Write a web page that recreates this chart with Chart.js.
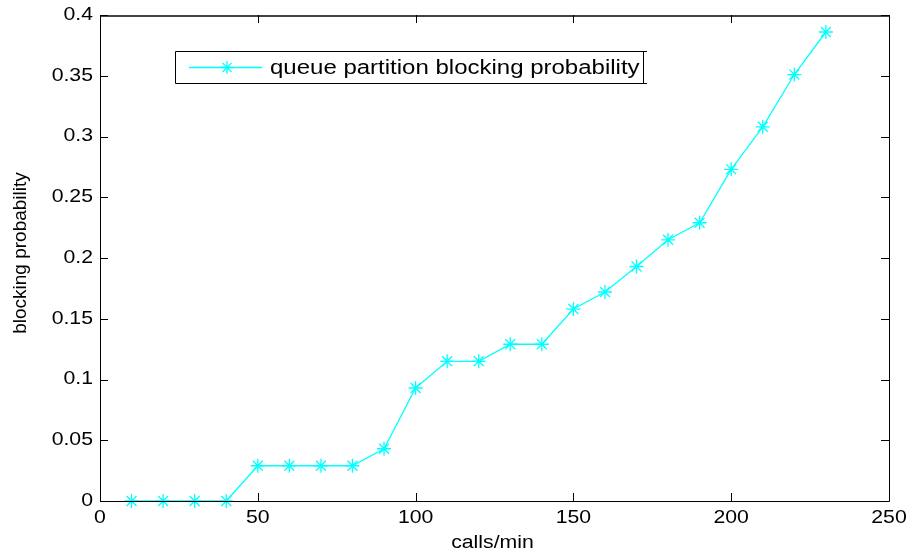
<!DOCTYPE html>
<html>
<head>
<meta charset="utf-8">
<script src="https://cdn.jsdelivr.net/npm/chart.js@4"></script>
<style>
  html, body { margin: 0; padding: 0; background: #fff; }
  #wrap { width: 912px; height: 552px; }
</style>
</head>
<body>
<div id="wrap"><canvas id="blockChart" width="912" height="552"></canvas></div>
<script>
// data
const callsPerMin = [10, 20, 30, 40, 50, 60, 70, 80, 90, 100, 110, 120, 130, 140, 150, 160, 170, 180, 190, 200, 210, 220, 230];
const blockingProb = [0, 0, 0, 0, 0.029, 0.029, 0.029, 0.029, 0.043, 0.093, 0.115, 0.115, 0.129, 0.129, 0.158, 0.172, 0.193, 0.215, 0.229, 0.273, 0.308, 0.351, 0.386];
const xTicks = [0, 50, 100, 150, 200, 250];
const yTicks = [0, 0.05, 0.1, 0.15, 0.2, 0.25, 0.3, 0.35, 0.4];
const yTickLabels = ["0", "0.05", "0.1", "0.15", "0.2", "0.25", "0.3", "0.35", "0.4"];
const seriesLabel = "queue partition blocking probability";
const xTitle = "calls/min";
const yTitle = "blocking probability";

const FONT = '"Liberation Sans", Arial, sans-serif';
const CYAN = "#00ffff";

function wideText(ctx, text, x, y, align, sx){
  ctx.save();
  ctx.translate(x, y);
  ctx.scale(sx || 1.18, 1);
  ctx.textAlign = align;
  ctx.fillText(text, 0, 0);
  ctx.restore();
}

function star(ctx, x, y, r){
  ctx.beginPath();
  for (let k = 0; k < 4; k++){
    const ang = k * Math.PI / 4;
    ctx.moveTo(x - r * Math.cos(ang), y - r * Math.sin(ang));
    ctx.lineTo(x + r * Math.cos(ang), y + r * Math.sin(ang));
  }
  ctx.stroke();
}

// matlab style box, inward ticks, labels and legend
const matlabAxes = {
  id: "matlabAxes",
  afterDraw(chart){
    const ctx = chart.ctx;
    const a = chart.chartArea;
    const xs = chart.scales.x, ys = chart.scales.y;
    const tl = 8;

    ctx.save();
    ctx.strokeStyle = "#000";
    ctx.lineWidth = 1;
    ctx.beginPath();
    ctx.rect(Math.round(a.left) + 0.5, Math.round(a.top) + 0.5, Math.round(a.right - a.left), Math.round(a.bottom - a.top));
    ctx.stroke();
    // top edge looks a bit heavier in the figure
    ctx.strokeStyle = "#444";
    ctx.lineWidth = 2;
    ctx.beginPath();
    ctx.moveTo(a.left, Math.round(a.top) + 1); ctx.lineTo(a.right, Math.round(a.top) + 1);
    ctx.stroke();

    ctx.strokeStyle = "#000";
    ctx.lineWidth = 1;
    ctx.beginPath();
    xTicks.forEach(v => {
      const px = Math.round(xs.getPixelForValue(v)) + 0.5;
      ctx.moveTo(px, a.bottom); ctx.lineTo(px, a.bottom - tl);
      ctx.moveTo(px, a.top); ctx.lineTo(px, a.top + tl);
    });
    yTicks.forEach(v => {
      const py = Math.round(ys.getPixelForValue(v)) + 0.5;
      ctx.moveTo(a.left, py); ctx.lineTo(a.left + tl, py);
      ctx.moveTo(a.right, py); ctx.lineTo(a.right - tl, py);
    });
    ctx.stroke();

    ctx.fillStyle = "#000";
    ctx.font = "18px " + FONT;
    ctx.textBaseline = "middle";
    yTicks.forEach((v, i) => {
      wideText(ctx, yTickLabels[i], a.left - 7, ys.getPixelForValue(v), "right");
    });
    ctx.textBaseline = "top";
    xTicks.forEach(v => {
      wideText(ctx, String(v), xs.getPixelForValue(v), a.bottom + 8, "center");
    });

    // axis titles
    ctx.font = "18px " + FONT;
    ctx.textBaseline = "middle";
    wideText(ctx, xTitle, (a.left + a.right) / 2 - 2, 543, "center");

    ctx.save();
    ctx.translate(21, 253);
    ctx.rotate(-Math.PI / 2);
    ctx.font = "19px " + FONT;
    ctx.textAlign = "center";
    ctx.textBaseline = "middle";
    ctx.fillText(yTitle, 0, 0);
    ctx.restore();

    // legend box
    const lx = 175, ly = 51, lw = 468, lh = 32;
    ctx.fillStyle = "#fff";
    ctx.fillRect(lx, ly, lw, lh);
    ctx.strokeStyle = "#000";
    ctx.lineWidth = 1;
    ctx.beginPath();
    ctx.rect(lx + 0.5, ly + 0.5, lw, lh);
    ctx.moveTo(lx + lw, ly + 0.5); ctx.lineTo(lx + lw + 4, ly + 0.5);
    ctx.moveTo(lx + lw, ly + lh + 0.5); ctx.lineTo(lx + lw + 4, ly + lh + 0.5);
    ctx.stroke();

    const my = ly + lh / 2 + 0.5;
    ctx.strokeStyle = CYAN;
    ctx.lineWidth = 1.3;
    ctx.beginPath();
    ctx.moveTo(189, my); ctx.lineTo(262, my);
    ctx.stroke();
    star(ctx, 227, my, 6.5);

    ctx.fillStyle = "#000";
    ctx.font = "20px " + FONT;
    ctx.textBaseline = "middle";
    wideText(ctx, chart.data.datasets[0].label, 270, my + 1, "left", 1.2);
    ctx.restore();
  }
};

new Chart(document.getElementById("blockChart"), {
  type: "line",
  data: {
    datasets: [{
      label: seriesLabel,
      data: callsPerMin.map((c, i) => ({ x: c, y: blockingProb[i] })),
      borderColor: CYAN,
      backgroundColor: CYAN,
      borderWidth: 1.3,
      pointStyle: "star",
      pointRadius: 7,
      pointBorderWidth: 1.3,
      pointBorderColor: CYAN,
      tension: 0,
      clip: false
    }]
  },
  options: {
    responsive: false,
    animation: false,
    layout: { padding: { top: 15, right: 23, left: 0, bottom: 0 } },
    plugins: { legend: { display: false }, tooltip: { enabled: false } },
    scales: {
      x: {
        type: "linear", min: 0, max: 250,
        ticks: { display: false },
        grid: { display: false, drawTicks: false },
        border: { display: false },
        afterFit(s){ s.height = 51; }
      },
      y: {
        min: 0, max: 0.4,
        ticks: { display: false },
        grid: { display: false, drawTicks: false },
        border: { display: false },
        afterFit(s){ s.width = 100; }
      }
    }
  },
  plugins: [matlabAxes]
});
</script>
</body>
</html>
